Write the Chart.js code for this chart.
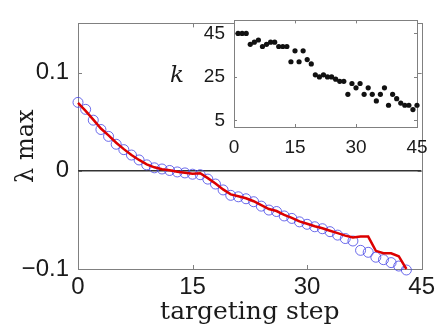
<!DOCTYPE html>
<html>
<head>
<meta charset="utf-8">
<script src="https://cdn.jsdelivr.net/npm/chart.js@4.4.0/dist/chart.umd.min.js"></script>
<style>
  html, body { margin: 0; padding: 0; background: #fff; }
  #wrap { position: relative; width: 439px; height: 331px; }
  #main { position: absolute; left: 0; top: 0; }
  #inset { position: absolute; left: 150px; top: 0; }
</style>
</head>
<body>
<div id="wrap">
  <canvas id="main" width="439" height="331"></canvas>
  <canvas id="inset" width="289" height="170"></canvas>
</div>
<script>
// main plot: largest eigenvalue per targeting step
const steps = [0,1,2,3,4,5,6,7,8,9,10,11,12,13,14,15,16,17,18,19,20,21,
  22,23,24,25,26,27,28,29,30,31,32,33,34,35,36,37,38,39,40,41,42,43];
const lambdaMax = [0.0696, 0.0625, 0.0515, 0.0420, 0.0350, 0.0270, 0.0215, 0.0160, 0.0110, 0.0060,
  0.0030, 0.0018, 0.0003, -0.0012, -0.0022, -0.0035, -0.0040, -0.0085, -0.0135, -0.0195,
  -0.0250, -0.0265, -0.0285, -0.0315, -0.0360, -0.0400, -0.0415, -0.0460, -0.0485, -0.0520,
  -0.0545, -0.0570, -0.0590, -0.0620, -0.0655, -0.0690, -0.0715, -0.0810, -0.0830, -0.0880,
  -0.0905, -0.0935, -0.0970, -0.1010];
const lambdaTrack = [0.0690, 0.0610, 0.0520, 0.0430, 0.0360, 0.0285, 0.0220, 0.0160, 0.0110, 0.0065,
  0.0035, 0.0015, 0.0005, -0.0010, -0.0020, -0.0030, -0.0025, -0.0075, -0.0130, -0.0190,
  -0.0240, -0.0260, -0.0280, -0.0310, -0.0350, -0.0390, -0.0410, -0.0450, -0.0480, -0.0515,
  -0.0540, -0.0565, -0.0585, -0.0610, -0.0635, -0.0660, -0.0680, -0.0670, -0.0670, -0.0815,
  -0.0840, -0.0840, -0.0870, -0.1000];
const xTicks = [0, 15, 30, 45];
const yTicks = [-0.1, 0, 0.1];

// inset: k per targeting step
const insetSteps = [1,2,3,4,5,6,7,8,9,10,11,12,13,14,15,16,17,18,19,20,21,22,23,
  24,25,26,27,28,29,30,31,32,33,34,35,36,37,38,39,40,41,42,43,44,45];
const kValues = [45,45,45,40,41,42,39,40,41,41,39,39,39,32,37,32,37,33,31,26,25,26,25,
  25,24,23,23,17,22,20,22,17,20,17,14,17,20,12,17,15,13,12,12,10,12];
const kTicks = [5, 25, 45];

Chart.defaults.font.family = '"Liberation Sans", Arial, sans-serif';
Chart.defaults.color = '#1a1a1a';

const fmt = v => v === 0 ? '0' : (v < 0 ? '\u2212' : '') + Math.abs(v).toFixed(1);

// grey box round the plot area with inward ticks on all four sides
const boxFrame = {
  id: 'boxFrame',
  beforeDraw(chart, args, opts) {
    const {ctx, chartArea: a} = chart;
    if (opts.fill) {
      ctx.save();
      ctx.fillStyle = opts.fill;
      ctx.fillRect(a.left, a.top, a.right - a.left, a.bottom - a.top);
      ctx.restore();
    }
  },
  beforeDatasetsDraw(chart, args, opts) {
    const {ctx, chartArea: a, scales} = chart;
    const t = opts.tick;
    ctx.save();
    ctx.strokeStyle = opts.color;
    ctx.lineWidth = 1;
    ctx.beginPath();
    scales.x.ticks.forEach(tk => {
      const px = Math.round(scales.x.getPixelForValue(tk.value)) + 0.5;
      ctx.moveTo(px, a.bottom); ctx.lineTo(px, a.bottom - t);
      ctx.moveTo(px, a.top); ctx.lineTo(px, a.top + t);
    });
    scales.y.ticks.forEach(tk => {
      const py = Math.round(scales.y.getPixelForValue(tk.value)) + 0.5;
      ctx.moveTo(a.left, py); ctx.lineTo(a.left + t, py);
      ctx.moveTo(a.right, py); ctx.lineTo(a.right - t, py);
    });
    ctx.stroke();
    ctx.strokeRect(Math.round(a.left) + 0.5, Math.round(a.top) + 0.5,
      Math.round(a.right - a.left), Math.round(a.bottom - a.top));
    ctx.restore();
  }
};

// upright y label for the inset (axis titles are always rotated)
const uprightLabel = {
  id: 'uprightLabel',
  afterDraw(chart, args, opts) {
    if (!opts.text) return;
    const {ctx} = chart;
    ctx.save();
    ctx.font = opts.font;
    ctx.fillStyle = '#1a1a1a';
    ctx.textAlign = 'center';
    ctx.textBaseline = 'alphabetic';
    ctx.fillText(opts.text, opts.x, opts.y);
    ctx.restore();
  }
};

new Chart(document.getElementById('main'), {
  type: 'line',
  data: {
    datasets: [
      {
        data: [{x: 0, y: 0}, {x: 45, y: 0}],
        borderColor: '#333333', borderWidth: 1.5, pointRadius: 0, order: 3
      },
      {
        data: steps.map((s, i) => ({x: s, y: lambdaMax[i]})),
        showLine: false, pointStyle: 'circle', pointRadius: 5, pointBorderWidth: 1,
        pointBorderColor: 'rgba(70, 70, 230, 0.8)', pointBackgroundColor: 'rgba(0,0,0,0)',
        clip: false, order: 2
      },
      {
        data: steps.map((s, i) => ({x: s, y: lambdaTrack[i]})),
        borderColor: '#dc0000', borderWidth: 2.5, pointRadius: 0, tension: 0,
        clip: false, order: 1
      }
    ]
  },
  options: {
    responsive: false,
    animation: false,
    devicePixelRatio: 1,
    layout: { padding: { left: 0, right: 16, top: 10, bottom: 0 } },
    plugins: {
      legend: { display: false },
      tooltip: { enabled: false },
      boxFrame: { color: '#808080', tick: 4 },
      uprightLabel: {}
    },
    scales: {
      x: {
        type: 'linear', min: 0, max: 45,
        afterBuildTicks: s => { s.ticks = xTicks.map(v => ({value: v})); },
        afterFit: s => { s.height = 62; },
        grid: { display: false, drawTicks: false },
        border: { display: false },
        ticks: { padding: 4, autoSkip: false, maxRotation: 0, font: { size: 24 } },
        title: {
          display: true, text: 'targeting step',
          font: { family: '"DejaVu Serif", serif', size: 25 },
          padding: { top: 0, bottom: 4 }
        }
      },
      y: {
        type: 'linear', min: -0.1, max: 0.15,
        afterBuildTicks: s => { s.ticks = yTicks.map(v => ({value: v})); },
        afterFit: s => { s.width = 78; },
        grid: { display: false, drawTicks: false },
        border: { display: false },
        ticks: { padding: 9, autoSkip: false, font: { size: 24 }, callback: v => fmt(v) },
        title: {
          display: true, text: 'λ max',
          font: { family: '"DejaVu Serif", serif', size: 24 },
          padding: { top: 12, bottom: 0 }
        }
      }
    }
  },
  plugins: [boxFrame, uprightLabel]
});

new Chart(document.getElementById('inset'), {
  type: 'line',
  data: {
    datasets: [{
      data: insetSteps.map((s, i) => ({x: s, y: kValues[i]})),
      showLine: false, pointStyle: 'circle', pointRadius: 2.6, pointBorderWidth: 0,
      pointBackgroundColor: '#111111', clip: false
    }]
  },
  options: {
    responsive: false,
    animation: false,
    devicePixelRatio: 1,
    layout: { padding: { left: 0, right: 22, top: 16, bottom: 0 } },
    plugins: {
      legend: { display: false },
      tooltip: { enabled: false },
      boxFrame: { color: '#808080', tick: 3, fill: '#ffffff' },
      uprightLabel: { text: 'k', font: 'italic 23px "DejaVu Serif", serif', x: 27, y: 82 }
    },
    scales: {
      x: {
        type: 'linear', min: 0, max: 45,
        afterBuildTicks: s => { s.ticks = xTicks.map(v => ({value: v})); },
        afterFit: s => { s.height = 43; },
        grid: { display: false, drawTicks: false },
        border: { display: false },
        ticks: { padding: 9, autoSkip: false, maxRotation: 0, font: { size: 19 } }
      },
      y: {
        type: 'linear', min: 2, max: 51,
        afterBuildTicks: s => { s.ticks = kTicks.map(v => ({value: v})); },
        afterFit: s => { s.width = 84; },
        grid: { display: false, drawTicks: false },
        border: { display: false },
        ticks: { padding: 9, autoSkip: false, font: { size: 19 } }
      }
    }
  },
  plugins: [boxFrame, uprightLabel]
});
</script>
</body>
</html>
